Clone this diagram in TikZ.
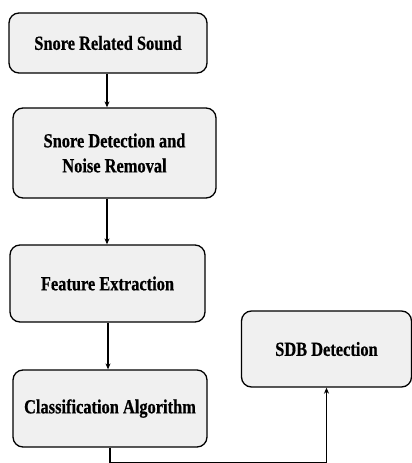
\documentclass[tikz,border=0pt]{standalone}
\usepackage{fontspec}
\setmainfont{Liberation Serif}
\newfontfamily\boxfont[FakeStretch=0.82,FakeBold=0.6]{Liberation Serif}
\usetikzlibrary{arrows.meta}
\tikzset{
  box/.style={draw=black, line width=1.3pt, fill=boxgray, rounded corners=10pt,
    align=center, inner sep=0pt, font=\boxfont\fontsize{20}{25}\selectfont\bfseries},
  arr/.style={draw=black, line width=1.3pt, -{Stealth[length=6pt,width=5pt]}}
}
\definecolor{boxgray}{HTML}{F0F0F0}
\begin{document}
\begin{tikzpicture}[x=1pt,y=-1pt]
\useasboundingbox (0,0) rectangle (412,463);
\node[box, minimum width=198pt, minimum height=60pt] (b1) at (108,43) {Snore Related Sound};
\node[box, minimum width=203pt, minimum height=90pt] (b2) at (114.5,153) {Snore Detection and\\Noise Removal};
\node[box, minimum width=195pt, minimum height=77pt] (b3) at (107.5,283.5) {Feature Extraction};
\node[box, minimum width=194pt, minimum height=77pt] (b4) at (110,408.5) {Classification Algorithm};
\node[box, minimum width=170pt, minimum height=76pt] (sdb) at (326.5,349) {SDB Detection};
\draw[arr] ([xshift=-1pt]b1.south) -- ([xshift=-1pt]b1.south |- b2.north);
\draw[arr] ([xshift=-7.5pt]b2.south) -- ([xshift=-7.5pt]b2.south |- b3.north);
\draw[arr] ([xshift=0.5pt]b3.south) -- ([xshift=0.5pt]b3.south |- b4.north);
\coordinate (c) at (sdb.south |- 0,462.9);
\draw[arr] (b4.south) |- (c) -- (sdb.south);
\end{tikzpicture}
\end{document}
